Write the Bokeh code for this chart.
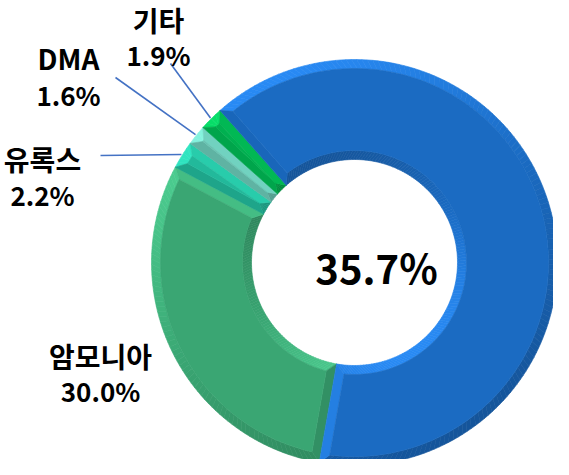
import numpy as np
from bokeh.plotting import figure
from bokeh.models import Range1d
from bokeh.core.properties import value
from bokeh.embed import file_html
from bokeh.resources import INLINE

# ---------------- data ----------------
categories = ["암모니아", "유록스", "DMA", "기타", "기타 외"]
shares = [30.0, 2.2, 1.6, 1.9, 64.3]
show_label = [True, True, True, True, False]
colors = ["#3AA673", "#22B99B", "#68C3B2", "#00B050", "#1B6BC2"]

# ---------------- layout ----------------
W, H = 553, 459
CX, CY = 362, 475 - 270          # donut centre (data units = pixels, y up)
R_OUT, R_IN = 203, 103
BEVEL = 9
START_DEG = 190                  # clockwise from 12 o'clock, first slice start
LIGHT = np.array([-0.5, 0.85]); LIGHT = LIGHT / np.linalg.norm(LIGHT)
FONT = "Noto Sans CJK KR"
# label placement (x, y of name line, y of value line) in page pixels
label_xy = {"암모니아": (108, 363, 398), "유록스": (50, 166, 202),
            "DMA": (76, 65, 102), "기타": (166, 27, 62)}
# free end of leader lines (page pixels); None = no leader line
leader_end = {"암모니아": None, "유록스": (108, 163), "DMA": (123, 85), "기타": (178, 71)}


def hex2rgb(h):
    h = h.lstrip("#")
    return np.array([int(h[i:i + 2], 16) for i in (0, 2, 4)], float)


def shade(h, f):
    c = hex2rgb(h)
    if f > 0:
        c = c * (1 + 0.22 * f) + 8 * f
    else:
        c = c * (1 + 0.2 * f)
    c = np.clip(c, 0, 255).astype(int)
    return "#%02x%02x%02x" % tuple(c)


def pt(rho, th):
    return CX + rho * np.sin(th), CY + rho * np.cos(th)


def inset(rho, t1, t2):
    d = min(np.arcsin(min(1.0, BEVEL / rho)), (t2 - t1) / 2)
    return t1 + d, t2 - d


p = figure(width=W, height=H, output_backend="svg", toolbar_location=None,
           x_range=Range1d(8, 8 + W), y_range=Range1d(475 - 8 - H, 475 - 8),
           x_axis_location=None, y_axis_location=None, min_border=0)
p.grid.visible = False
p.outline_line_color = None
p.background_fill_color = "white"

xs, ys, fills = [], [], []


def add_poly(points, col):
    xs.append([q[0] for q in points]); ys.append([q[1] for q in points]); fills.append(col)


total = sum(shares)
cum = START_DEG
mids = {}
for cat, s, col in zip(categories, shares, colors):
    d1 = cum; d2 = cum + s / total * 360.0; cum = d2
    t1, t2 = np.radians(d1), np.radians(d2)
    mids[cat] = (t1 + t2) / 2
    ro, ri = R_OUT, R_IN
    o1, o2 = inset(ro - BEVEL, t1, t2)
    i1, i2 = inset(ri + BEVEL, t1, t2)
    n = max(2, int((d2 - d1) / 1.5))
    a = np.linspace(t1, t2, n + 1)
    fo = np.linspace(o1, o2, n + 1)
    fi = np.linspace(i1, i2, n + 1)
    for k in range(n):
        am = (a[k] + a[k + 1]) / 2
        nrm = np.array([np.sin(am), np.cos(am)])
        add_poly([pt(ro, a[k]), pt(ro, a[k + 1]), pt(ro - BEVEL, fo[k + 1]), pt(ro - BEVEL, fo[k])],
                 shade(col, float(nrm @ LIGHT)))
    for k in range(n):
        am = (a[k] + a[k + 1]) / 2
        nrm = -np.array([np.sin(am), np.cos(am)])
        add_poly([pt(ri, a[k]), pt(ri, a[k + 1]), pt(ri + BEVEL, fi[k + 1]), pt(ri + BEVEL, fi[k])],
                 shade(col, float(nrm @ LIGHT)))
    nrm1 = np.array([-np.cos(t1), np.sin(t1)])
    add_poly([pt(ro, t1), pt(ro - BEVEL, o1), pt(ri + BEVEL, i1), pt(ri, t1)], shade(col, float(nrm1 @ LIGHT)))
    nrm2 = np.array([np.cos(t2), -np.sin(t2)])
    add_poly([pt(ro, t2), pt(ro - BEVEL, o2), pt(ri + BEVEL, i2), pt(ri, t2)], shade(col, float(nrm2 @ LIGHT)))
    face = [pt(ro - BEVEL, t) for t in fo] + [pt(ri + BEVEL, t) for t in fi[::-1]]
    add_poly(face, col)

p.patches(xs=xs, ys=ys, fill_color=fills, line_color=fills, line_width=0.6)

# leader lines
for cat in categories:
    if leader_end.get(cat):
        ex, ey = leader_end[cat]
        sx, sy = pt(R_OUT + 1, mids[cat])
        p.line([ex, sx], [475 - ey, sy], line_color="#4472C4", line_width=1.6)

# labels
names, vals, lx, ly1, ly2 = [], [], [], [], []
for cat, s, show in zip(categories, shares, show_label):
    if show:
        x, y1, y2 = label_xy[cat]
        names.append(cat); vals.append(f"{s:.1f}%")
        lx.append(x); ly1.append(475 - y1); ly2.append(475 - y2)
p.text(x=lx, y=ly1, text=names, text_font=value(FONT), text_font_style="bold",
       text_font_size="28px", text_align="center", text_baseline="middle", text_color="#000000")
p.text(x=lx, y=ly2, text=vals, text_font=value(FONT), text_font_style="bold",
       text_font_size="26px", text_align="center", text_baseline="middle", text_color="#000000")

center_total = sum(s for s, sh in zip(shares, show_label) if sh)
p.text(x=[384], y=[475 - 274], text=[f"{center_total:.1f}%"], text_font=value(FONT),
       text_font_style="bold", text_font_size="40px", text_align="center",
       text_baseline="middle", text_color="#000000")

open("out.html", "w").write(file_html(p, INLINE))
